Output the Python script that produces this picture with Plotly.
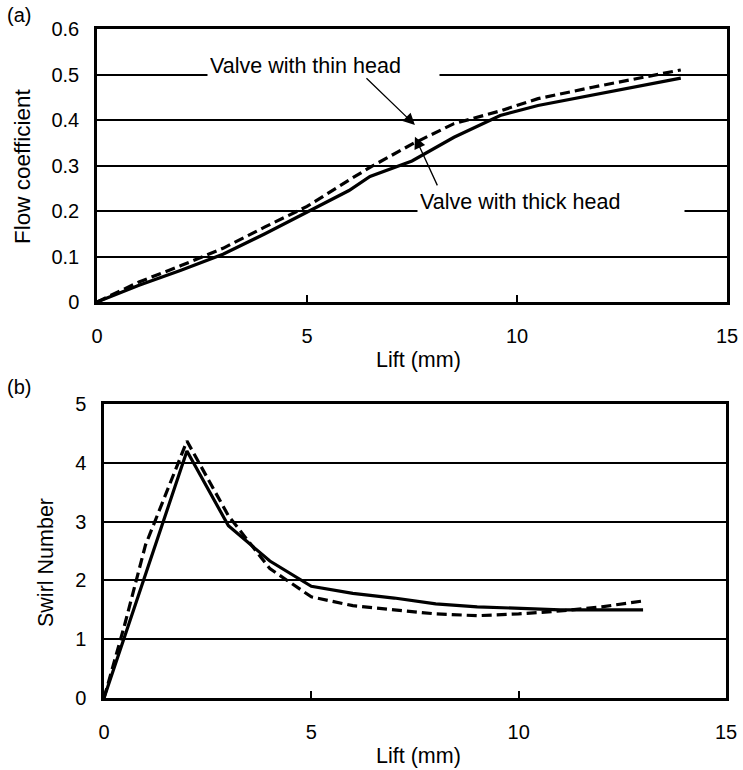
import plotly.graph_objects as go

# ---- data: (a) flow coefficient vs lift ----
lift_a_solid = [0, 1, 2, 3, 4, 5, 6, 6.5, 7.5, 8.5, 9.6, 10.5, 11.8, 13.9]
flow_solid = [0, 0.037, 0.07, 0.105, 0.15, 0.198, 0.245, 0.276, 0.31, 0.362, 0.41, 0.432, 0.455, 0.492]
lift_a_dash = [0, 1, 2, 3, 4, 5, 6, 6.5, 7.5, 8.5, 9.6, 10.5, 11.8, 13.9]
flow_dash = [0, 0.044, 0.08, 0.118, 0.165, 0.21, 0.268, 0.296, 0.347, 0.392, 0.42, 0.447, 0.472, 0.51]

# ---- data: (b) swirl number vs lift ----
lift_b_solid = [0, 2, 3, 4, 5, 6, 7, 8, 9, 10, 11, 12, 13]
swirl_solid = [0, 4.2, 2.93, 2.33, 1.9, 1.78, 1.7, 1.6, 1.55, 1.52, 1.5, 1.5, 1.5]
lift_b_dash = [0, 0.5, 1, 2, 3, 4, 5, 6, 7, 8, 9, 10, 11, 12, 13]
swirl_dash = [0, 1.25, 2.6, 4.37, 3.1, 2.2, 1.72, 1.57, 1.5, 1.43, 1.4, 1.43, 1.48, 1.55, 1.65]

x_ticks = [0, 5, 10, 15]
y_ticks_a = [0, 0.1, 0.2, 0.3, 0.4, 0.5, 0.6]
y_ticks_b = [0, 1, 2, 3, 4, 5]

FONT = "Liberation Sans, Arial, sans-serif"
FS_TICK = 20
FS_TEXT = 21.5

fig = go.Figure()
fig.add_trace(go.Scatter(x=lift_a_solid, y=flow_solid, mode="lines",
                         line=dict(color="black", width=3.2), xaxis="x", yaxis="y",
                         name="Valve with thin head"))
fig.add_trace(go.Scatter(x=lift_a_dash, y=flow_dash, mode="lines",
                         line=dict(color="black", width=3.2, dash="10px,5px"), xaxis="x", yaxis="y",
                         name="Valve with thick head"))
fig.add_trace(go.Scatter(x=lift_b_solid, y=swirl_solid, mode="lines",
                         line=dict(color="black", width=3.2), xaxis="x2", yaxis="y2",
                         name="Valve with thin head"))
fig.add_trace(go.Scatter(x=lift_b_dash, y=swirl_dash, mode="lines",
                         line=dict(color="black", width=3.2, dash="10px,5px"), xaxis="x2", yaxis="y2",
                         name="Valve with thick head"))

xcommon = dict(range=[0, 15], tickvals=x_ticks, showgrid=False, zeroline=False,
               showline=True, linecolor="black", linewidth=2.5, mirror=True,
               ticks="inside", ticklen=7, tickwidth=2, tickcolor="black",
               tickfont=dict(family=FONT, size=FS_TICK, color="black"),
               ticklabelstandoff=14, automargin=False)
ycommon = dict(showgrid=True, gridcolor="black", gridwidth=1.6, zeroline=False,
               showline=True, linecolor="black", linewidth=2.5, mirror=True,
               ticks="", tickfont=dict(family=FONT, size=FS_TICK, color="black"),
               ticklabelstandoff=11, automargin=False)

fig.update_layout(
    template="none",
    width=743, height=770, margin=dict(l=0, r=0, t=0, b=0, pad=0),
    paper_bgcolor="white", plot_bgcolor="white", showlegend=False,
    font=dict(family=FONT, size=FS_TEXT, color="black"),
    xaxis=dict(domain=[97/743, 727/743], anchor="y", **xcommon),
    yaxis=dict(domain=[1-302/770, 1-29/770], anchor="x", range=[0, 0.6],
               tickvals=y_ticks_a, ticktext=["0", "0.1", "0.2", "0.3", "0.4", "0.5", "0.6"],
               **ycommon),
    xaxis2=dict(domain=[104/743, 726/743], anchor="y2", **xcommon),
    yaxis2=dict(domain=[1-698/770, 1-404/770], anchor="x2", range=[0, 5],
                tickvals=y_ticks_b, **ycommon),
)

ann = []
# panel labels and axis titles
ann.append(dict(text="(a)", x=5/743, y=1-15/770, xref="paper", yref="paper",
                xanchor="left", yanchor="middle", showarrow=False, font=dict(size=20)))
ann.append(dict(text="(b)", x=5/743, y=1-387/770, xref="paper", yref="paper",
                xanchor="left", yanchor="middle", showarrow=False, font=dict(size=20)))
ann.append(dict(text="Flow coefficient", x=22/743, y=1-167/770, xref="paper", yref="paper",
                textangle=-90, xanchor="center", yanchor="middle", showarrow=False,
                font=dict(size=22.5)))
ann.append(dict(text="Swirl Number", x=46/743, y=1-563/770, xref="paper", yref="paper",
                textangle=-90, xanchor="center", yanchor="middle", showarrow=False))
ann.append(dict(text="Lift (mm)", x=418/743, y=1-360/770, xref="paper", yref="paper",
                xanchor="center", yanchor="middle", showarrow=False))
ann.append(dict(text="Lift (mm)", x=418/743, y=1-756/770, xref="paper", yref="paper",
                xanchor="center", yanchor="middle", showarrow=False))
# labels with white background interrupting gridlines
ann.append(dict(text="Valve with thin head", x=207/743, y=1-66/770, xref="paper", yref="paper",
                xanchor="left", yanchor="middle", showarrow=False, bgcolor="white",
                width=227, align="left", borderpad=2))
ann.append(dict(text="Valve with thick head", x=417/743, y=1-202/770, xref="paper", yref="paper",
                xanchor="left", yanchor="middle", showarrow=False, bgcolor="white",
                width=262, align="left", borderpad=2))
# arrows
ann.append(dict(text="", x=7.57, y=0.389, ax=6.38, ay=0.495, xref="x", yref="y",
                axref="x", ayref="y", showarrow=True, arrowhead=2, arrowsize=1.8,
                arrowwidth=1.3, arrowcolor="black"))
ann.append(dict(text="", x=7.57, y=0.363, ax=8.12, ay=0.253, xref="x", yref="y",
                axref="x", ayref="y", showarrow=True, arrowhead=2, arrowsize=1.8,
                arrowwidth=1.3, arrowcolor="black"))
fig.update_layout(annotations=ann)

fig.write_html("out.html")
